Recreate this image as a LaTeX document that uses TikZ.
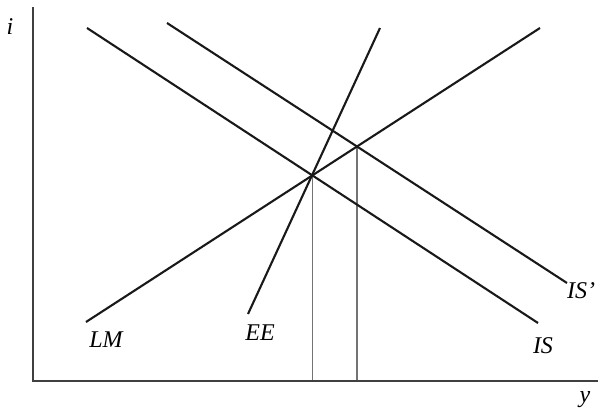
\documentclass[tikz,border=0pt]{standalone}
\usepackage{fontspec}
\setmainfont{Liberation Serif}
\usetikzlibrary{intersections}

\tikzset{
  sched/.style={line width=2.1pt, black!90},
  axis/.style={line width=1.4pt, black!75},
  guide/.style={line width=1.5pt, black!55},
  lbl/.style={font=\fontsize{24}{28}\selectfont\itshape, inner sep=0pt},
}

\begin{document}
\begin{tikzpicture}[x=1pt, y=1pt]
    \useasboundingbox (-33,-30) rectangle (565,381);

    % axes
    \coordinate (O) at (0,0);
    \coordinate (Y_top) at (0,374);
    \coordinate (X_end) at (565,0);
    \node[lbl] (i_label) at (-23,354) {i};
    \node[lbl] (y_label) at (552,-19) {y};

    % end points of the schedules
    \coordinate (LM_low) at (53,59);
    \coordinate (LM_high) at (507,353);
    \coordinate (IS_high) at (54,353);
    \coordinate (IS_low) at (505,58);
    \coordinate (ISp_high) at (134,358);
    \coordinate (ISp_low) at (534,98);
    \coordinate (EE_low) at (215,67);
    \coordinate (EE_high) at (347,353);

    \path[name path=LM] (LM_low) -- (LM_high);
    \path[name path=IS] (IS_high) -- (IS_low);
    \path[name path=ISp] (ISp_high) -- (ISp_low);
    \path[name intersections={of=LM and IS, by=E_old}];
    \path[name intersections={of=LM and ISp, by=E_new}];

    % drops to the y axis
    \draw[guide] (E_old) -- (E_old |- O);
    \draw[guide] (E_new) -- (E_new |- O);

    \draw[axis] (Y_top) -- (O) -- (X_end);

    \draw[sched] (LM_low) -- (LM_high);
    \draw[sched] (IS_high) -- (IS_low);
    \draw[sched] (ISp_high) -- (ISp_low);
    \draw[sched] (EE_low) -- (EE_high);

    % labels
    \node[lbl] (LM_label) at (73,41) {LM};
    \node[lbl] (EE_label) at (227,48) {EE};
    \node[lbl] (ISp_label) at (548,90) {IS'};
    \node[lbl] (IS_label) at (510,35) {IS};

\end{tikzpicture}
\end{document}
